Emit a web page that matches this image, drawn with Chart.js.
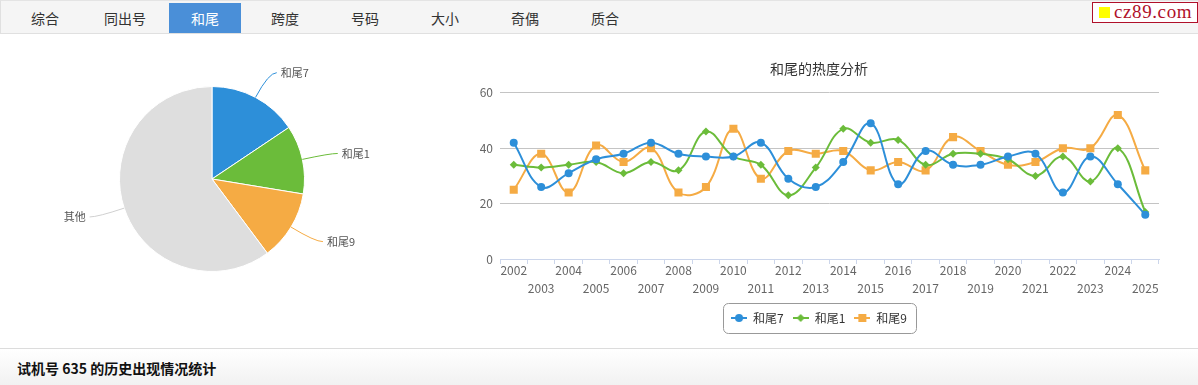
<!DOCTYPE html>
<html>
<head>
<meta charset="utf-8">
<script src="https://cdn.jsdelivr.net/npm/chart.js@4/dist/chart.umd.min.js"></script>
<style>
    body { margin: 0; width: 1198px; height: 385px; overflow: hidden; position: relative; background: #fff; font-family: "Noto Sans CJK SC", sans-serif; }
    .tabs { position: absolute; left: 0; top: 0; width: 1197px; height: 32px; background: #f5f5f5; border-top: 1px solid #e4e4e4; border-bottom: 1px solid #e0e0e0; border-left: 1px solid #e0e0e0; }
    .tab { position: absolute; top: 2px; width: 72px; height: 30px; line-height: 30px; text-align: center; font-size: 14px; color: #333; }
    .tab.on { background: #4a8fd8; color: #fff; }
    .logo { position: absolute; right: 0; top: 2px; height: 19px; width: 104px; border: 1px solid #b0102a; background: #fff; }
    .logo i { position: absolute; left: 6px; top: 4px; width: 11px; height: 11px; background: #ffff00; }
    .logo span { position: absolute; left: 21px; top: -2px; font-family: "Liberation Serif", serif; font-size: 19px; letter-spacing: 0.6px; color: #b0102a; }
    .foot { position: absolute; left: 0; top: 348px; width: 1198px; height: 37px; border-top: 1px solid #dcdcdc; background: linear-gradient(#fff, #f1f1f1); }
    .foot b { position: absolute; left: 17px; top: 9px; font-size: 14px; color: #111; }
    #pie { position: absolute; left: 0; top: 40px; }
    #line { position: absolute; left: 440px; top: 42px; }
</style>
</head>
<body>
<div class="tabs" id="tabs"></div>
<div class="logo"><i></i><span>cz89.com</span></div>
<canvas id="pie" width="424" height="278"></canvas>
<canvas id="line" width="758" height="300"></canvas>
<div class="foot"><b>试机号 635 的历史出现情况统计</b></div>
<script>
const tabNames = ['综合', '同出号', '和尾', '跨度', '号码', '大小', '奇偶', '质合'];
const activeTab = '和尾';

const pieLabels = ['和尾7', '和尾1', '和尾9', '其他'];
const pieValues = [15.6, 12.0, 12.2, 60.2];

const years = ['2002', '2003', '2004', '2005', '2006', '2007', '2008', '2009', '2010', '2011', '2012', '2013',
    '2014', '2015', '2016', '2017', '2018', '2019', '2020', '2021', '2022', '2023', '2024', '2025'];
const tail7 = [42, 26, 31, 36, 38, 42, 38, 37, 37, 42, 29, 26, 35, 49, 27, 39, 34, 34, 37, 38, 24, 37, 27, 16];
const tail1 = [34, 33, 34, 35, 31, 35, 32, 46, 37, 34, 23, 33, 47, 42, 43, 34, 38, 38, 36, 30, 37, 28, 40, 17];
const tail9 = [25, 38, 24, 41, 35, 40, 24, 26, 47, 29, 39, 38, 39, 32, 35, 32, 44, 39, 34, 35, 40, 40, 52, 32];

const colors = ['#2d8fd9', '#6bbc3a', '#f5ab44', '#dedede'];
const FONT = '"Noto Sans CJK SC", sans-serif';

// tabs
const tabBox = document.getElementById('tabs');
tabNames.forEach((name, i) => {
    const d = document.createElement('div');
    d.className = 'tab' + (name === activeTab ? ' on' : '');
    d.style.left = (8 + i * 80) + 'px';
    d.textContent = name;
    tabBox.appendChild(d);
});

// pie labels with connectors
const pieLabelPlugin = {
    id: 'pieLabels',
    afterDraw(chart) {
        const ctx = chart.ctx;
        const meta = chart.getDatasetMeta(0);
        ctx.save();
        ctx.font = '11px ' + FONT;
        ctx.textBaseline = 'middle';
        ctx.lineWidth = 1;
        meta.data.forEach((arc, i) => {
            const p = arc.getProps(['x', 'y', 'startAngle', 'endAngle', 'outerRadius']);
            const mid = (p.startAngle + p.endAngle) / 2;
            const cos = Math.cos(mid), sin = Math.sin(mid);
            const sx = p.x + cos * p.outerRadius, sy = p.y + sin * p.outerRadius;
            const bx = p.x + cos * (p.outerRadius + 28), by = p.y + sin * (p.outerRadius + 28);
            const dir = cos >= 0 ? 1 : -1;
            ctx.strokeStyle = i === 3 ? '#d0d0d0' : colors[i];
            ctx.beginPath();
            ctx.moveTo(sx, sy);
            ctx.quadraticCurveTo(bx, by, bx + dir * 8, by);
            ctx.stroke();
            ctx.fillStyle = '#555';
            ctx.textAlign = dir > 0 ? 'left' : 'right';
            ctx.fillText(chart.data.labels[i], bx + dir * 12, by);
        });
        ctx.restore();
    }
};

new Chart(document.getElementById('pie'), {
    type: 'pie',
    data: {
        labels: pieLabels,
        datasets: [{
            data: pieValues,
            backgroundColor: colors,
            borderColor: '#fff',
            borderWidth: 1
        }]
    },
    options: {
        responsive: false,
        animation: false,
        layout: { padding: { left: 119, right: 119, top: 46, bottom: 46 } },
        plugins: { legend: { display: false }, tooltip: { enabled: false } }
    },
    plugins: [pieLabelPlugin]
});

// legend symbol: short line with the marker on it
function legendIcon(color, shape) {
    const c = document.createElement('canvas');
    c.width = 16; c.height = 10;
    const g = c.getContext('2d');
    g.strokeStyle = color; g.fillStyle = color; g.lineWidth = 2;
    g.beginPath(); g.moveTo(0, 5); g.lineTo(16, 5); g.stroke();
    g.beginPath();
    if (shape === 'circle') g.arc(8, 5, 4, 0, Math.PI * 2);
    else if (shape === 'diamond') { g.moveTo(8, 1); g.lineTo(12, 5); g.lineTo(8, 9); g.lineTo(4, 5); g.closePath(); }
    else g.rect(4, 1, 8, 8);
    g.fill();
    return c;
}
const icons = [legendIcon(colors[0], 'circle'), legendIcon(colors[1], 'diamond'), legendIcon(colors[2], 'square')];

const legendBorder = {
    id: 'legendBorder',
    afterDraw(chart) {
        const boxes = chart.legend.legendHitBoxes;
        if (!boxes || !boxes.length) return;
        const left = Math.min(...boxes.map(b => b.left)) - 8;
        const right = Math.max(...boxes.map(b => b.left + b.width)) + 9;
        const cy = boxes[0].top + boxes[0].height / 2;
        const ctx = chart.ctx;
        ctx.save();
        ctx.strokeStyle = '#999';
        ctx.lineWidth = 1;
        ctx.beginPath();
        ctx.roundRect(Math.round(left) + 0.5, Math.round(cy - 15) + 0.5, Math.round(right - left), 30, 5);
        ctx.stroke();
        ctx.restore();
    }
};

function series(label, values, i, style, radius) {
    return {
        label: label,
        data: values,
        borderColor: colors[i],
        backgroundColor: colors[i],
        borderWidth: 2,
        tension: 0.4,
        pointStyle: style,
        pointRadius: radius,
        pointHoverRadius: radius,
        pointBorderWidth: 0,
        pointBackgroundColor: colors[i]
    };
}

new Chart(document.getElementById('line'), {
    type: 'line',
    data: {
        labels: years,
        datasets: [
            series('和尾7', tail7, 0, 'circle', 4),
            series('和尾1', tail1, 1, 'rectRot', 4),
            series('和尾9', tail9, 2, 'rect', 5.7)
        ]
    },
    options: {
        responsive: false,
        animation: false,
        layout: { padding: { left: 39, right: 39, top: 0, bottom: 8 } },
        scales: {
            x: {
                offset: true,
                afterFit: s => { s.height = 44; },
                grid: { offset: true, drawOnChartArea: false, drawTicks: true, tickLength: 5, color: '#ccd6eb' },
                border: { color: '#ccd6eb' },
                ticks: {
                    autoSkip: false, maxRotation: 0, padding: -2, color: '#666',
                    font: { family: FONT, size: 12, lineHeight: 1.45 },
                    callback: (v, i) => i % 2 ? ['', years[i]] : years[i]
                }
            },
            y: {
                min: 0, max: 60,
                afterFit: s => { s.width = 21; },
                grid: { drawTicks: false, color: c => c.tick.value === 0 ? 'rgba(0,0,0,0)' : '#c4c4c4' },
                border: { display: false },
                ticks: { stepSize: 20, padding: 7, color: '#666', font: { family: FONT, size: 12 } }
            }
        },
        plugins: {
            title: {
                display: true, text: '和尾的热度分析', color: '#333',
                font: { family: FONT, size: 14, weight: 'normal' },
                padding: { top: 18, bottom: 16 }
            },
            legend: {
                position: 'bottom',
                labels: {
                    usePointStyle: true, pointStyleWidth: 16, padding: 9, color: '#333',
                    font: { family: FONT, size: 12 },
                    generateLabels(chart) {
                        const items = Chart.defaults.plugins.legend.labels.generateLabels(chart);
                        items.forEach((it, i) => { it.pointStyle = icons[i]; });
                        return items;
                    }
                }
            },
            tooltip: { enabled: false }
        }
    },
    plugins: [legendBorder]
});
</script>
</body>
</html>
